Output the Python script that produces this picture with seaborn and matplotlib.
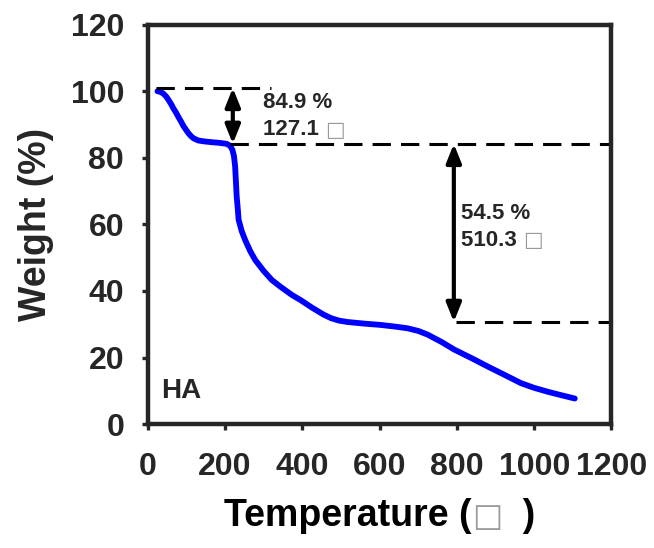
import matplotlib
matplotlib.use("Agg")
import matplotlib.pyplot as plt
import pandas as pd
import seaborn as sns
from matplotlib.offsetbox import AnchoredOffsetbox, HPacker, TextArea

# TGA curve of HA
temperature = [25, 33, 40, 47, 53, 60, 66, 73, 79, 86, 92, 99, 105, 112, 118, 125, 131,
               148, 165, 185, 204, 213, 219, 223, 226, 228, 230, 233, 235, 243, 252, 265,
               278, 300, 321, 343, 373, 395, 425, 455, 475, 495, 516, 560, 603, 640, 672,
               700, 724, 760, 793, 840, 880, 925, 966, 1000, 1036, 1070, 1105]
weight = [100, 99.8, 99.3, 98.5, 97.5, 96.2, 94.9, 93.6, 92.3, 90.9, 89.6, 88.4, 87.4,
          86.5, 85.9, 85.5, 85.2, 84.9, 84.7, 84.5, 84.2, 83.6, 82.4, 80.5, 77.4, 73.0,
          68.4, 64.5, 61.4, 58.0, 55.3, 52.0, 49.3, 46.0, 43.3, 41.3, 38.8, 37.3, 35.0,
          32.9, 31.8, 31.1, 30.7, 30.2, 29.8, 29.3, 28.8, 28.0, 26.9, 24.7, 22.4, 19.7,
          17.3, 14.7, 12.3, 10.9, 9.7, 8.7, 7.7]

# annotation levels
step1_top, step1_bottom, step1_x = 101, 84.2, 220
step2_top, step2_bottom, step2_x = 84.2, 30.7, 792
step1_text = ["84.9 %", "127.1 "]
step2_text = ["54.5 %", "510.3 "]
box = "\u25a1"

sns.set_style("ticks")
plt.rcParams["font.family"] = ["Liberation Sans", "DejaVu Sans"]
plt.rcParams["font.weight"] = "bold"

df = pd.DataFrame({"Temperature": temperature, "Weight": weight})

fig, ax = plt.subplots(figsize=(6.54, 5.48), dpi=100)
fig.subplots_adjust(left=0.226, right=0.935, top=0.955, bottom=0.226)

sns.lineplot(data=df, x="Temperature", y="Weight", ax=ax, color="#0000ff", lw=4.2,
             solid_capstyle="round", solid_joinstyle="round")

dash = dict(color="black", lw=2.2, dashes=(6, 3.3))
ax.plot([20, 320], [step1_top, step1_top], **dash)
ax.plot([213, 1200], [step1_bottom, step1_bottom], **dash)
ax.plot([797, 1200], [step2_bottom, step2_bottom], **dash)

arrow = dict(arrowstyle="<|-|>,head_length=0.8,head_width=0.32", color="black", lw=3,
             shrinkA=0, shrinkB=0, mutation_scale=14)
ax.annotate("", xy=(step1_x, step1_bottom), xytext=(step1_x, step1_top), arrowprops=arrow)
ax.annotate("", xy=(step2_x, step2_bottom), xytext=(step2_x, step2_top), arrowprops=arrow)


def label(x, y, txt, unit=False):
    t = ax.text(x, y, txt, fontsize=16, fontweight="bold", va="center", ha="left")
    if unit:
        ax.annotate(box, xy=(1, 0.5), xycoords=t, va="center", ha="left",
                    fontsize=15, color="#9a9a9a", fontweight="normal",
                    family=["DejaVu Sans"])


label(298, 96.5, step1_text[0])
label(298, 88.4, step1_text[1], unit=True)
label(810, 63.3, step2_text[0])
label(810, 55.3, step2_text[1], unit=True)

ax.text(34, 10, "HA", fontsize=20, fontweight="bold", va="center", ha="left")

ax.set_xlim(0, 1200)
ax.set_ylim(0, 120)
ax.set_xticks(range(0, 1201, 200))
ax.set_yticks(range(0, 121, 20))
ax.tick_params(labelsize=23, width=2.4, length=4, direction="out")
ax.tick_params(axis="y", pad=13)
ax.tick_params(axis="x", pad=16)
for lab in ax.get_xticklabels() + ax.get_yticklabels():
    lab.set_fontweight("bold")
for s in ax.spines.values():
    s.set_linewidth(3.2)
    s.set_visible(True)

# x label: grey unit box between black text pieces
xl_props = dict(fontsize=27, fontweight="bold", color="black")
parts = HPacker(children=[
    TextArea("Temperature (", textprops=xl_props),
    TextArea(box, textprops=dict(fontsize=23, color="#9a9a9a", fontweight="normal",
                                 family=["DejaVu Sans"])),
    TextArea("  )", textprops=xl_props),
], align="baseline", pad=0, sep=0)
xlab = AnchoredOffsetbox(loc="upper center", child=parts, pad=0, borderpad=0,
                         frameon=False, bbox_to_anchor=(0.5, -0.185),
                         bbox_transform=ax.transAxes)
ax.add_artist(xlab)
ax.set_xlabel("")

ax.set_ylabel("Weight (%)", fontsize=27, fontweight="bold", labelpad=12)

fig.savefig("out.png", dpi=100)
